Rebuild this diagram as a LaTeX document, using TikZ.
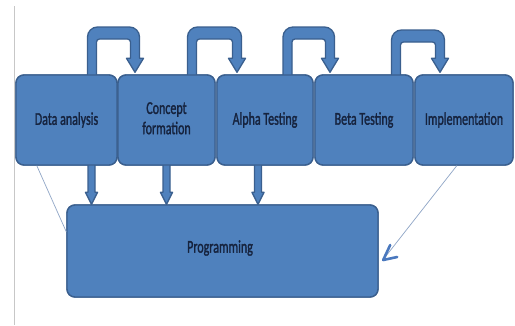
\documentclass[tikz,border=0pt]{standalone}
\usepackage{fontspec}
\setmainfont{Carlito}
\newfontfamily\boxfont[FakeBold=1.8]{Carlito}
\usetikzlibrary{arrows.meta,calc}
\definecolor{boxfill}{HTML}{4F81BD}
\definecolor{boxline}{HTML}{3A5F8E}
\definecolor{txt}{HTML}{16233E}
\definecolor{thinc}{HTML}{8FA5C6}
\definecolor{headc}{HTML}{4A78BE}
\newcommand\talltext[1]{\scalebox{1}[1.5]{#1}}
\newcommand\looparr[3]{%
  \filldraw[band] let \p1=(#1), \p2=(#2) in
  (\x1-4.5pt,\y1-4pt) [rounded corners=10pt] -- (\x1-4.5pt,-#3pt) -- (\x2+4.5pt,-#3pt)
  [sharp corners] -- (\x2+4.5pt,\y2+14pt) -- (\x2+8.5pt,\y2+14pt) -- (#2)
  -- (\x2-8.5pt,\y2+14pt) -- (\x2-4.5pt,\y2+14pt)
  [rounded corners=3pt] -- (\x2-4.5pt,-#3pt-12pt) -- (\x1+4.5pt,-#3pt-12pt)
  [sharp corners] -- (\x1+4.5pt,\y1-4pt) -- cycle;}
\newcommand\downarr[2]{%
  \filldraw[band] let \p1=(#1), \p2=(#2) in
  (\x1-3.5pt,\y1+4pt) -- (\x1-3.5pt,\y2+12pt) -- (\x1-6pt,\y2+12pt) -- (#2)
  -- (\x1+6pt,\y2+12pt) -- (\x1+3.5pt,\y2+12pt) -- (\x1+3.5pt,\y1+4pt) -- cycle;}
\begin{document}
\begin{tikzpicture}[x=1pt,y=-1pt,
  box/.style={draw=boxline, fill=boxfill, line width=1.4pt, rounded corners=8pt,
    inner sep=0pt, minimum height=90pt, text=txt,
    font=\boxfont\fontsize{12}{13.5}\selectfont, align=center},
  band/.style={fill=boxfill, draw=boxline, line width=1.3pt, line join=round},
  thinline/.style={draw=thinc, line width=0.7pt},
  barb/.style={draw=headc, line width=2.6pt, line cap=round, line join=round}]
\useasboundingbox[fill=white] (0,0) rectangle (515,325);
\draw[black!22, line width=0.8pt] (14.5,6) -- (14.5,325);
% nodes (geometry only, drawn again later on top)
\path
  (66.5,120) node[box, minimum width=101pt] (da) {\talltext{Data analysis}}
  (166.5,120) node[box, minimum width=97pt] (cf) {\talltext{\begin{tabular}{@{}c@{}}Concept\\formation\end{tabular}}}
  (265,120) node[box, minimum width=96pt] (at) {\talltext{Alpha Testing}}
  (364,120) node[box, minimum width=98pt] (bt) {\talltext{Beta Testing}}
  (464,120) node[box, minimum width=98pt] (im) {\talltext{Implementation}}
  (222.5,251) node[box, minimum width=311pt, minimum height=92pt] (prog) {};
% coordinates for the connectors
\coordinate (l1s) at ([xshift=25.5pt]da.north);
\coordinate (l1e) at ([xshift=-31.5pt,yshift=2pt]cf.north);
\coordinate (l2s) at ([xshift=25.5pt]cf.north);
\coordinate (l2e) at ([xshift=-28pt,yshift=2pt]at.north);
\coordinate (l3s) at ([xshift=22.5pt]at.north);
\coordinate (l3e) at ([xshift=-34pt,yshift=2pt]bt.north);
\coordinate (l4s) at ([xshift=32pt]bt.north);
\coordinate (l4e) at ([xshift=-24pt,yshift=2pt]im.north);
\coordinate (d1s) at ([xshift=25pt]da.south);
\coordinate (d2s) at (cf.south);
\coordinate (d3s) at ([xshift=-7pt]at.south);
\coordinate (tip) at ([xshift=4.5pt,yshift=-9pt]prog.east);
\looparr{l1s}{l1e}{27}
\looparr{l2s}{l2e}{27}
\looparr{l3s}{l3e}{27}
\looparr{l4s}{l4e}{30}
\downarr{d1s}{d1s |- prog.north}
\downarr{d2s}{d2s |- prog.north}
\downarr{d3s}{d3s |- prog.north}
% redraw boxes on top
\path
  (66.5,120) node[box, minimum width=101pt] {\talltext{Data analysis}}
  (166.5,120) node[box, minimum width=97pt] {\talltext{\begin{tabular}{@{}c@{}}Concept\\formation\end{tabular}}}
  (265,120) node[box, minimum width=96pt] {\talltext{Alpha Testing}}
  (364,120) node[box, minimum width=98pt] {\talltext{Beta Testing}}
  (464,120) node[box, minimum width=98pt] {\talltext{Implementation}}
  (222.5,251) node[box, minimum width=311pt, minimum height=92pt] {}
  (220,248) node[text=txt, font=\boxfont\fontsize{12}{13.5}\selectfont] (progtext) {\talltext{Programming}};
\draw[thinline] (da.237) -- (prog.173);
\draw[thinline] (im.261) -- ([shift={(2,-3)}]tip);
\draw[barb] ([shift={(7,-15)}]tip) -- (tip) -- ([shift={(14,-3)}]tip);
\end{tikzpicture}
\end{document}
